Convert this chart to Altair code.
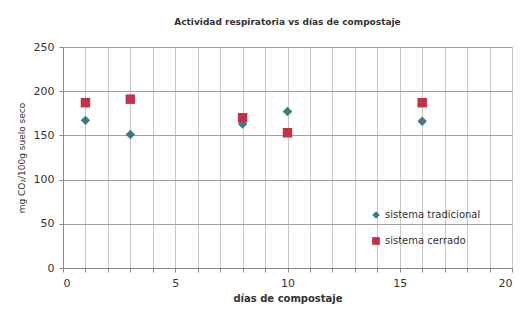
import altair as alt
import pandas as pd

dias = [1, 3, 8, 10, 16]
tradicional = [167, 151, 163, 177, 166]
cerrado = [187, 191, 170, 153, 187]
series = ["sistema tradicional", "sistema cerrado"]

df = pd.DataFrame({
    "dias": dias * 2,
    "valor": tradicional + cerrado,
    "serie": [series[0]] * len(dias) + [series[1]] * len(dias),
})

FONT = "DejaVu Sans"

leg = dict(title=None, orient="none", legendX=308, legendY=163,
           labelFontSize=10, labelColor="#333333", symbolSize=60,
           rowPadding=16, labelFont=FONT, labelOffset=4)

chart = alt.Chart(df).mark_point(filled=True, opacity=1, strokeWidth=0).encode(
    x=alt.X("dias:Q", title="días de compostaje",
            scale=alt.Scale(domain=[0, 20], nice=False),
            axis=alt.Axis(values=list(range(0, 21)), labelExpr="datum.value % 5 == 0 ? datum.label : ''",
                          gridColor="#c8c8c8", gridWidth=1, domainColor="#888888",
                          tickColor="#888888", tickSize=4, labelFontSize=11, labelColor="#333333",
                          titleFontSize=10, titleFontWeight="bold", titleColor="#333333",
                          labelPadding=5, titlePadding=5)),
    y=alt.Y("valor:Q", title="mg CO₂/100g suelo seco",
            scale=alt.Scale(domain=[0, 250], nice=False),
            axis=alt.Axis(values=[0, 50, 100, 150, 200, 250], gridColor="#a0a0a0", gridWidth=1,
                          domainColor="#888888", tickColor="#888888", tickSize=4,
                          labelFontSize=11, labelColor="#333333", labelPadding=5,
                          titleFontSize=9, titleFontWeight="normal", titleColor="#333333",
                          titlePadding=7)),
    shape=alt.Shape("serie:N", scale=alt.Scale(domain=series, range=["diamond", "square"]),
                    legend=alt.Legend(**leg)),
    color=alt.Color("serie:N", scale=alt.Scale(domain=series, range=["#3c7a8a", "#c2334a"]),
                    legend=alt.Legend(**leg)),
    size=alt.value(90),
).properties(
    width=449, height=221,
    title=alt.Title("Actividad respiratoria vs días de compostaje", fontSize=9,
                    fontWeight="bold", color="#333333", font=FONT, offset=14),
    autosize=alt.AutoSizeParams(type="none"),
    padding={"left": 55, "top": 39, "right": 3, "bottom": 37},
).configure(font=FONT).configure_view(stroke=None)

chart.save("out.html", embed_options={"renderer": "svg", "actions": False})
